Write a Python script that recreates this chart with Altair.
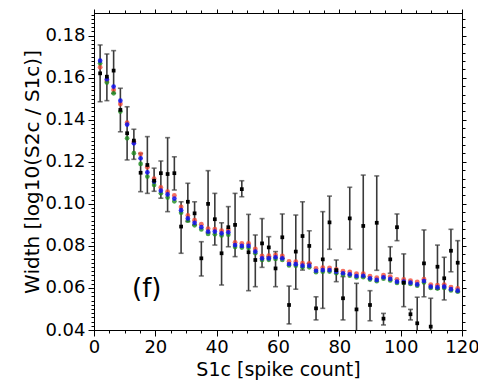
import altair as alt
import pandas as pd

# ---- data ----
S1C = [2.0, 4.2, 6.4, 8.6, 10.8, 13.0, 15.2, 17.4, 19.6, 21.8, 24.0, 26.2, 28.4, 30.6,
       32.8, 35.0, 37.2, 39.4, 41.6, 43.8, 46.0, 48.2, 50.4, 52.6, 54.8, 57.0, 59.2,
       61.4, 63.6, 65.8, 68.0, 70.2, 72.4, 74.6, 76.8, 79.0, 81.2, 83.4, 85.6, 87.8,
       90.0, 92.2, 94.4, 96.6, 98.8, 101.0, 103.2, 105.4, 107.6, 109.8, 112.0, 114.2,
       116.4, 118.6]

BLUE = [0.1681, 0.1593, 0.1558, 0.1491, 0.1377, 0.1288, 0.1217, 0.1150, 0.1106, 0.1063,
        0.1045, 0.1025, 0.0970, 0.0931, 0.0910, 0.0889, 0.0868, 0.0868, 0.0860, 0.0865,
        0.0804, 0.0800, 0.0800, 0.0773, 0.0741, 0.0741, 0.0746, 0.0741, 0.0714, 0.0713,
        0.0706, 0.0706, 0.0682, 0.0685, 0.0685, 0.0677, 0.0670, 0.0665, 0.0657, 0.0658,
        0.0646, 0.0638, 0.0651, 0.0643, 0.0630, 0.0630, 0.0625, 0.0617, 0.0633, 0.0606,
        0.0603, 0.0606, 0.0594, 0.0587]

RED = [0.1650, 0.1585, 0.1542, 0.1475, 0.1386, 0.1295, 0.1237, 0.1174, 0.1120, 0.1078,
       0.1058, 0.1040, 0.0985, 0.0945, 0.0922, 0.0903, 0.0882, 0.0880, 0.0872, 0.0876,
       0.0816, 0.0812, 0.0812, 0.0785, 0.0752, 0.0753, 0.0757, 0.0752, 0.0726, 0.0725,
       0.0718, 0.0717, 0.0693, 0.0696, 0.0695, 0.0688, 0.0680, 0.0676, 0.0668, 0.0668,
       0.0656, 0.0649, 0.0661, 0.0654, 0.0641, 0.0640, 0.0635, 0.0628, 0.0642, 0.0616,
       0.0613, 0.0616, 0.0604, 0.0598]

GREEN = [0.1669, 0.1577, 0.1526, 0.1439, 0.1312, 0.1241, 0.1190, 0.1130, 0.1090, 0.1050,
         0.1030, 0.1012, 0.0958, 0.0920, 0.0898, 0.0878, 0.0857, 0.0855, 0.0850, 0.0853,
         0.0795, 0.0792, 0.0790, 0.0765, 0.0733, 0.0734, 0.0738, 0.0733, 0.0707, 0.0706,
         0.0699, 0.0698, 0.0675, 0.0677, 0.0678, 0.0670, 0.0663, 0.0658, 0.0650, 0.0651,
         0.0640, 0.0632, 0.0644, 0.0636, 0.0624, 0.0624, 0.0619, 0.0611, 0.0626, 0.0600,
         0.0597, 0.0600, 0.0588, 0.0582]

BLACK = [0.1621, 0.1605, 0.1634, 0.1447, 0.1336, 0.1301, 0.1148, 0.1185, 0.1110, 0.1146,
         0.1142, 0.1146, 0.0892, 0.1010, 0.0955, 0.0741, 0.1000, 0.0927, 0.0765, 0.0889,
         0.0900, 0.1070, 0.0770, 0.0733, 0.0812, 0.0793, 0.0693, 0.0841, 0.0519, 0.0773,
         0.0847, 0.0800, 0.0503, 0.0736, 0.0912, 0.0685, 0.0551, 0.0931, 0.0498, 0.0895,
         0.0519, 0.0910, 0.0454, 0.0736, 0.0889, 0.0625, 0.0475, 0.0432, 0.0717, 0.0416,
         0.0701, 0.0646, 0.0777, 0.0720]

BLACK_LO = [0.1486, 0.1491, 0.1526, 0.1343, 0.1209, 0.1212, 0.1058, 0.1050, 0.1060, 0.1027,
            0.0963, 0.1066, 0.0765, 0.0916, 0.0900, 0.0657, 0.0863, 0.0804, 0.0614, 0.0796,
            0.0749, 0.1034, 0.0587, 0.0606, 0.0698, 0.0748, 0.0606, 0.0741, 0.0429, 0.0594,
            0.0685, 0.0717, 0.0448, 0.0503, 0.0784, 0.0630, 0.0448, 0.0784, 0.0380, 0.0654,
            0.0444, 0.0684, 0.0424, 0.0670, 0.0825, 0.0511, 0.0448, 0.0390, 0.0558, 0.0350,
            0.0594, 0.0543, 0.0677, 0.0582]

BLACK_HI = [0.1756, 0.1713, 0.1729, 0.1550, 0.1462, 0.1355, 0.1240, 0.1320, 0.1170, 0.1204,
            0.1315, 0.1224, 0.1010, 0.1098, 0.1010, 0.0820, 0.1158, 0.1050, 0.0910, 0.0987,
            0.1050, 0.1110, 0.0950, 0.0852, 0.0930, 0.0844, 0.0773, 0.0952, 0.0609, 0.0947,
            0.1010, 0.0872, 0.0558, 0.0963, 0.1037, 0.0733, 0.0654, 0.1079, 0.0622, 0.1137,
            0.0587, 0.1133, 0.0479, 0.0796, 0.0952, 0.0762, 0.0498, 0.0556, 0.0876, 0.0551,
            0.0804, 0.0746, 0.0879, 0.0825]

X_MAJOR = [0, 20, 40, 60, 80, 100, 120]
Y_MAJOR = [0.04, 0.06, 0.08, 0.10, 0.12, 0.14, 0.16, 0.18]
X_MINOR = [v * 5 for v in range(0, 25)]
Y_MINOR_LEFT = [round(0.04 + k * 0.002, 3) for k in range(0, 76)]
Y_MINOR_RIGHT = [round(0.04 + k * 0.004, 3) for k in range(0, 38)]
PANEL_LABEL = ["(f)"]
PANEL_X = [17.2]
PANEL_Y = [0.0595]

X_DOMAIN = [0, 120]
Y_DOMAIN = [0.04, 0.1908]

FONT = "DejaVu Sans"

df = pd.DataFrame({"x": S1C, "blue": BLUE, "red": RED, "green": GREEN,
                   "black": BLACK, "lo": BLACK_LO, "hi": BLACK_HI})
lab = pd.DataFrame({"x": PANEL_X, "y": PANEL_Y, "t": PANEL_LABEL})

xs = alt.Scale(domain=X_DOMAIN, nice=False, zero=False)
ys = alt.Scale(domain=Y_DOMAIN, nice=False, zero=False)

base = alt.Chart(df)

x_major_test = "datum.value % 20 === 0"
y_major_test = "abs(datum.value*50 - round(datum.value*50)) < 0.001"

axis_layer = base.mark_point(opacity=0).encode(
    x=alt.X("x:Q", scale=xs, title="S1c [spike count]",
            axis=alt.Axis(orient="bottom", values=X_MINOR,
                          labelExpr=f"{x_major_test} ? datum.label : ''",
                          tickSize={"condition": {"test": x_major_test, "value": 6}, "value": 3},
                          labelFontSize=18, titleFontSize=19, labelPadding=2,
                          titlePadding=4, grid=False, labelFlush=False)),
    y=alt.Y("blue:Q", scale=ys, title="Width [log10(S2c / S1c)]",
            axis=alt.Axis(orient="left", values=Y_MINOR_LEFT, format=".2f",
                          labelExpr=f"{y_major_test} ? datum.label : ''",
                          tickSize={"condition": {"test": y_major_test, "value": 6}, "value": 3},
                          labelFontSize=18, titleFontSize=20, labelPadding=3,
                          titlePadding=2, grid=False, labelFlush=False)),
)

axis_layer2 = base.mark_point(opacity=0).encode(
    x=alt.X("x:Q", scale=xs, title=None,
            axis=alt.Axis(orient="top", values=X_MINOR, labels=False,
                          tickSize={"condition": {"test": x_major_test, "value": 4}, "value": 3},
                          grid=False)),
    y=alt.Y("blue:Q", scale=ys, title=None,
            axis=alt.Axis(orient="right", values=Y_MINOR_RIGHT, labels=False,
                          tickSize={"condition": {"test": y_major_test, "value": 4}, "value": 3},
                          grid=False)),
)

err = base.mark_errorbar(ticks=alt.MarkConfig(size=5), thickness=1.6, color="#3a3a3a", clip=True).encode(
    x=alt.X("x:Q", scale=xs, axis=None),
    y=alt.Y("lo:Q", scale=ys, axis=None),
    y2="hi:Q",
)


def pts(field, color, opacity, size):
    return base.mark_circle(color=color, opacity=opacity, size=size, clip=True).encode(
        x=alt.X("x:Q", scale=xs, axis=None),
        y=alt.Y(f"{field}:Q", scale=ys, axis=None),
    )


red = pts("red", "#f0402e", 0.75, 24)
green = pts("green", "#1e8c1e", 0.8, 22)
blue = pts("blue", "#1010f0", 0.85, 22)

black = base.mark_square(color="black", opacity=1, size=14, clip=True).encode(
    x=alt.X("x:Q", scale=xs, axis=None),
    y=alt.Y("black:Q", scale=ys, axis=None),
)

text = alt.Chart(lab).mark_text(font=FONT, fontSize=26, color="black",
                                align="center", baseline="middle").encode(
    x=alt.X("x:Q", scale=xs, axis=None),
    y=alt.Y("y:Q", scale=ys, axis=None),
    text="t:N",
)

chart = alt.layer(axis_layer, axis_layer2, err, red, green, blue, black, text).resolve_axis(
    x="independent", y="independent"
).properties(
    width=368, height=317,
    autosize=alt.AutoSizeParams(type="none"),
    padding={"left": 94, "top": 13, "right": 16, "bottom": 53},
    background="white",
).configure_axis(
    labelFont=FONT, titleFont=FONT, labelColor="black", titleColor="black",
    titleFontWeight="normal", domainColor="black", tickColor="black",
    domainWidth=1, tickWidth=1,
).configure_view(stroke="black", strokeWidth=1)

chart.save("out.html", embed_options={"renderer": "svg", "actions": False})
